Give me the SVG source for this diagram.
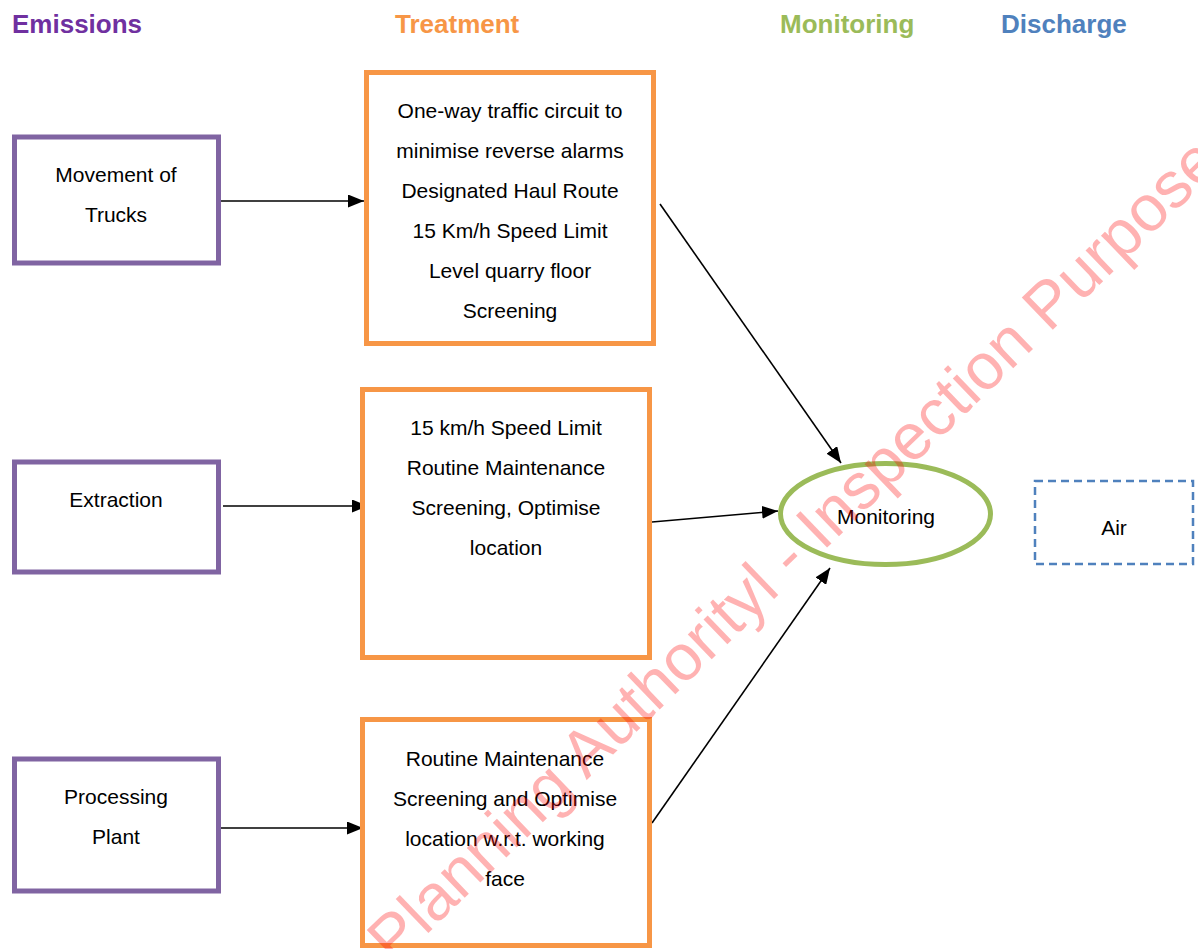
<svg xmlns="http://www.w3.org/2000/svg" width="1198" height="949" viewBox="0 0 1198 949">
<style>
.hdr{font-family:"Liberation Sans",Arial,sans-serif;font-size:26px;font-weight:bold}
.t{font-family:"Liberation Sans",Arial,sans-serif;font-size:21px;fill:#000;text-anchor:middle}
.em{fill:#fff;stroke:#8064A2;stroke-width:5}
.tr{fill:#fff;stroke:#F79646;stroke-width:5}
.con{stroke:#000;stroke-width:1.6;fill:none;marker-end:url(#ah)}
.wm{font-family:"Liberation Sans",Arial,sans-serif;font-size:65px;fill:#ff0000;fill-opacity:0.3}
</style>
<defs>
<marker id="ah" markerUnits="userSpaceOnUse" markerWidth="17" markerHeight="13" refX="16" refY="6.5" orient="auto">
<path d="M0,0 L16,6.5 L0,13 z" fill="#000"/>
</marker>
</defs>
<rect x="0" y="0" width="1198" height="949" fill="#fff"/>
<g id="headers">
<text class="hdr" x="12" y="33" fill="#7030A0">Emissions</text>
<text class="hdr" x="395" y="33" fill="#F79646">Treatment</text>
<text class="hdr" x="780" y="33" fill="#9BBB59">Monitoring</text>
<text class="hdr" x="1001" y="33" fill="#4F81BD">Discharge</text>
</g>
<g id="connectors">
<line class="con" x1="219" y1="201" x2="364" y2="201"/>
<line class="con" x1="223" y1="506" x2="368" y2="506"/>
<line class="con" x1="218" y1="828" x2="363" y2="828"/>
<line class="con" x1="660" y1="204" x2="841" y2="463"/>
<line class="con" x1="652" y1="522" x2="778" y2="511"/>
<line class="con" x1="652" y1="823" x2="830" y2="568"/>
</g>
<g id="movement-of-trucks">
<rect class="em" x="14.5" y="137" width="204" height="126"/>
<text class="t" x="116" y="182">Movement of</text>
<text class="t" x="116" y="222">Trucks</text>
</g>
<g id="extraction">
<rect class="em" x="14.5" y="462" width="204" height="110"/>
<text class="t" x="116" y="507">Extraction</text>
</g>
<g id="processing-plant">
<rect class="em" x="14.5" y="759" width="204" height="132"/>
<text class="t" x="116" y="804">Processing</text>
<text class="t" x="116" y="844">Plant</text>
</g>
<g id="treatment-trucks">
<rect class="tr" x="366.5" y="72.5" width="287" height="271"/>
<text class="t" x="510" y="118">One-way traffic circuit to</text>
<text class="t" x="510" y="158">minimise reverse alarms</text>
<text class="t" x="510" y="198">Designated Haul Route</text>
<text class="t" x="510" y="238">15 Km/h Speed Limit</text>
<text class="t" x="510" y="278">Level quarry floor</text>
<text class="t" x="510" y="318">Screening</text>
</g>
<g id="treatment-extraction">
<rect class="tr" x="362.5" y="389.5" width="287" height="268"/>
<text class="t" x="506" y="435">15 km/h Speed Limit</text>
<text class="t" x="506" y="475">Routine Maintenance</text>
<text class="t" x="506" y="515">Screening, Optimise</text>
<text class="t" x="506" y="555">location</text>
</g>
<g id="treatment-processing">
<rect class="tr" x="362.5" y="719.5" width="287" height="226"/>
<text class="t" x="505" y="766">Routine Maintenance</text>
<text class="t" x="505" y="806">Screening and Optimise</text>
<text class="t" x="505" y="846">location w.r.t. working</text>
<text class="t" x="505" y="886">face</text>
</g>
<g id="monitoring">
<ellipse cx="885.5" cy="514" rx="105" ry="50.5" fill="none" stroke="#9BBB59" stroke-width="5"/>
<text class="t" x="886" y="524">Monitoring</text>
</g>
<g id="air">
<rect x="1035" y="481" width="158" height="83" fill="none" stroke="#4F81BD" stroke-width="2.5" stroke-dasharray="8,5"/>
<text class="t" x="1114" y="535">Air</text>
</g>
<text class="wm" transform="translate(394,966) rotate(-44)">Planning Authorityl - Inspection Purposes</text>
</svg>
